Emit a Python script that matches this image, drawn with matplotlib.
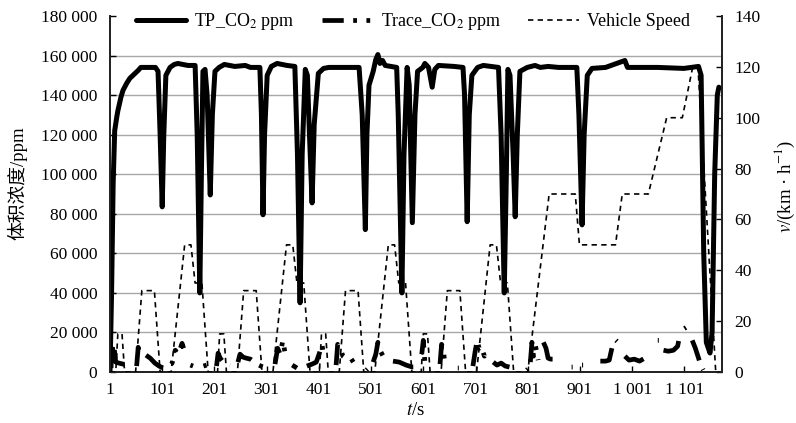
import numpy as np
import matplotlib
matplotlib.use("Agg")
import matplotlib.pyplot as plt
from matplotlib.ticker import FuncFormatter

plt.rcParams['font.family'] = ['Liberation Serif', 'Noto Sans CJK SC']
plt.rcParams['mathtext.fontset'] = 'stix'
plt.rcParams['font.size'] = 12.5

# ---------------- data ----------------
tp_t = [1, 4, 7, 10, 14, 16, 22, 26, 33, 39, 49, 55, 60, 88, 93, 97, 101, 104, 108, 116, 124, 131,
        150, 164, 168, 173, 176, 179, 183, 187, 193, 197, 202, 210, 220, 240, 260, 270, 288, 291,
        294, 297, 302, 310, 321, 340, 355, 360, 365, 369, 375, 379, 383, 388, 392, 400, 410, 420,
        450, 478, 484, 490, 493, 497, 505, 510, 514, 518, 523, 528, 550, 553, 560, 564, 570, 574,
        580, 585, 590, 600, 604, 611, 618, 623, 630, 660, 677, 680, 685, 689, 694, 705, 716, 745,
        750, 756, 760, 763, 767, 773, 777, 781, 786, 800, 815, 825, 840, 860, 895, 899, 905, 909,
        915, 924, 950, 987, 992, 1050, 1100, 1128, 1133, 1138, 1143, 1150, 1154, 1159, 1164, 1167]
tp_v = [0, 40000, 95000, 122000, 129000, 132000, 139000, 142500, 146000, 148500, 151000, 152500,
        154000, 154000, 152000, 120000, 83500, 120000, 150000, 154000, 155500, 156000,
        155000, 155000, 120000, 40000, 100000, 152000, 153000, 140000, 89500, 130000, 152000,
        154000, 155500, 154500, 155000, 154000, 154000, 130000,
        79500, 120000, 150000, 154500, 156000, 155000, 154500, 110000, 35000, 110000, 153000,
        150000, 120000, 85500, 125000, 151000, 153500, 154000,
        154000, 154000, 130000, 72000, 120000, 145000, 152000, 158000, 160500, 156000, 157500,
        155000, 154000, 130000, 40000, 110000, 154000, 145000,
        75500, 130000, 152000, 154000, 156000, 154000, 144000, 153000, 155000, 154500, 154000,
        140000, 76000, 130000, 150000, 154000, 155000, 154000,
        120000, 40000, 100000, 153000, 150000, 110000, 78500, 120000, 152000, 154000, 155000,
        154000, 154500, 154000, 154000, 130000, 74400, 120000,
        150000, 153500, 154000, 157500, 154000, 154000, 153500, 154500, 150000, 60000, 15000,
        9600, 20000, 100000, 140000, 144000]

nan = np.nan
trace_t = [3, 5, 7, 9, 12, 18, 26, 34, 40, nan,
           52, 55, 57, nan,
           70, 78, 87, 95, 103, 112, 120, 126, 132, 139, 142, nan,
           155, 160, nan, 180, 186, nan,
           205, 208, 212, 218, 225, 231, nan,
           246, 250, 256, 262, 270, 278, 286, 294, nan,
           317, 322, 327, 332, 336, 340, nan,
           350, 359, nan,
           378, 388, 396, 402, 407, 410, nan,
           434, 437, 442, 447, 455, 462, 467, nan,
           492, 494, nan,
           505, 510, 514, 518, 522, 524, nan,
           543, 555, 568, 580, 595, nan,
           598, 601, 604, 607, nan,
           633, 636, 639, 642, 645, nan,
           667, 669, nan,
           696, 700, 704, 708, 712, 718, 723, nan,
           735, 742, 750, 758, 766, nan,
           799, 801, nan,
           806, 809, 812, 816, 821, nan,
           831, 836, 840, 845, 855, 863, nan,
           885, 887, nan, 905, 907, nan,
           940, 950, 957, 960, 963, nan, 970, 972, nan,
           987, 995, 1005, 1015, 1025, 1035, nan,
           1050, 1052, nan,
           1061, 1070, 1080, 1088, 1091, 1093, nan,
           1101, 1104, nan,
           1116, 1122, 1128, 1133, 1137]
trace_v = [2000, 15000, 6000, 12000, 5000, 4500, 4000, 3500, 4000, nan,
           3000, 12500, 9000, nan,
           8500, 7000, 4500, 3000, 2000, 2500, 4500, 11000, 9000, 14500, 12000, nan,
           3500, 3000, nan, 3000, 3500, nan,
           3000, 9500, 7000, 5000, 4000, 3500, nan,
           5000, 9000, 7500, 7000, 6500, 5000, 3500, 2500, nan,
           4000, 12000, 9000, 16000, 10000, 13000, nan,
           3500, 2000, nan,
           3000, 4000, 5000, 9500, 14000, 8000, nan,
           3500, 14000, 12000, 8000, 6500, 7000, 5000, nan,
           1000, 1500, nan,
           5000, 9000, 15000, 11000, 9000, 8000, nan,
           5500, 5000, 3500, 2500, 2500, nan,
           9000, 16000, 5000, 3000, nan,
           4000, 14000, 12000, 5000, 3000, nan,
           2000, 2000, nan,
           3000, 10000, 16000, 12000, 13000, 8000, 11000, nan,
           5000, 3500, 4500, 3000, 2500, nan,
           1000, 1500, nan,
           5000, 15000, 8000, 13000, 6000, nan,
           15000, 12000, 7000, 6500, 6500, 6000, nan,
           2500, 2500, nan, 3500, 3500, nan,
           5500, 5500, 6000, 9500, 13000, nan, 16000, 15500, nan,
           8000, 6000, 6500, 5500, 7000, 8500, nan,
           16000, 16000, nan,
           11000, 10500, 11000, 13000, 17000, 18500, nan,
           22000, 22500, nan,
           16000, 12000, 7000, 3000, 1000]

speed_t = [1, 12, 16, 24, 29, 50, 62, 86, 97, 118, 144, 156, 164, 177, 189, 196,
           207, 211, 219, 224, 245, 257, 281, 292, 313, 339, 351, 359, 372, 384, 391,
           402, 406, 414, 419, 440, 452, 476, 487, 508, 534, 546, 554, 567, 579, 586,
           597, 601, 609, 614, 635, 647, 671, 682, 703, 729, 741, 749, 762, 774, 781,
           801, 842, 892, 900, 969, 982, 1032, 1067, 1097, 1117, 1127, 1161, 1168]
speed_v = [0, 0, 15, 15, 0, 0, 32, 32, 0, 0, 50, 50, 35, 35, 0, 0,
           0, 15, 15, 0, 0, 32, 32, 0, 0, 50, 50, 35, 35, 0, 0,
           0, 15, 15, 0, 0, 32, 32, 0, 0, 50, 50, 35, 35, 0, 0,
           0, 15, 15, 0, 0, 32, 32, 0, 0, 50, 50, 35, 35, 0, 0,
           0, 70, 70, 50, 50, 70, 70, 100, 100, 120, 120, 0, 0]

x_ticks = [1, 101, 201, 301, 401, 501, 601, 701, 801, 901, 1001, 1101]
x_ticklabels = ['1', '101', '201', '301', '401', '501', '601', '701', '801', '901', '1 001', '1 101']
left_ticks = list(range(0, 180001, 20000))
right_ticks = list(range(0, 141, 20))

# ---------------- figure ----------------
fig = plt.figure(figsize=(7.96, 4.23), dpi=100)
ax = fig.add_axes([110 / 796, 1 - 372 / 423, 612 / 796, 356 / 423])
ax2 = ax.twinx()

ax.set_xlim(1, 1173)
ax.set_ylim(0, 180000)
ax2.set_ylim(0, 140)

for yv in left_ticks[1:-1]:
    ax.axhline(yv, color='#a8a8a8', lw=1.0, zorder=0)

l_tp, = ax.plot(tp_t, tp_v, color='black', lw=3.6, solid_joinstyle='round',
                solid_capstyle='round', label='TP_CO$_2$ ppm', zorder=3)
l_tr, = ax.plot(trace_t, trace_v, color='black', lw=3.4,
                dashes=(4.5, 2.0, 0.8, 2.0, 0.8, 2.0),
                label='Trace_CO$_2$ ppm', zorder=2)
l_sp, = ax2.plot(speed_t, speed_v, color='black', lw=1.2, dashes=(3.2, 2.6),
                 label='Vehicle Speed', zorder=4)

ax.set_xticks(x_ticks)
ax.set_xticklabels(x_ticklabels)
ax.set_yticks(left_ticks)
ax.yaxis.set_major_formatter(FuncFormatter(lambda v, p: f"{int(v):,}".replace(',', ' ')))
ax2.set_yticks(right_ticks)

ax.tick_params(axis='both', direction='in', length=4, width=1, colors='black', labelsize=12.5)
ax.tick_params(axis='y', pad=9)
ax.tick_params(axis='x', pad=7)
ax2.tick_params(axis='y', direction='in', length=4, width=1, pad=9, labelsize=12.5)

for a in (ax, ax2):
    a.spines['top'].set_visible(False)
    for s in ('left', 'right', 'bottom'):
        a.spines[s].set_linewidth(1.3)
        a.spines[s].set_color('#222222')

ax.set_ylabel('体积浓度/ppm', fontsize=13.5)
ax.yaxis.set_label_coords(-0.135, 0.53)
ax2.set_ylabel('$v$/(km · h$^{-1}$)', fontsize=13.5)
ax2.yaxis.set_label_coords(1.083, 0.52)
ax.set_xlabel('$t$/s', fontsize=13.5)
ax.xaxis.set_label_coords(0.50, -0.085)

ax2.legend(handles=[l_tp, l_tr, l_sp], loc='center', bbox_to_anchor=(0.495, 0.985),
           ncol=3, frameon=False, fontsize=13, handlelength=2.8, handletextpad=0.45,
           columnspacing=1.5)

fig.savefig('out.png', dpi=100)
